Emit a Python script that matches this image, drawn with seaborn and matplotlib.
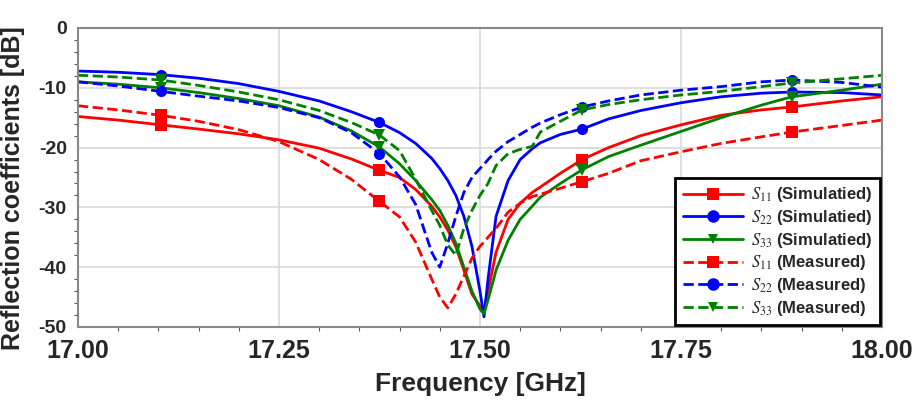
import matplotlib
matplotlib.use("Agg")
import matplotlib.pyplot as plt
from matplotlib.lines import Line2D
from matplotlib.ticker import MultipleLocator
import seaborn as sns

# frequency grid [GHz] shared by all traces
freq = [17.000, 17.050, 17.103, 17.150, 17.200, 17.250, 17.300, 17.340, 17.375,
        17.400, 17.420, 17.440, 17.450, 17.460, 17.470, 17.480, 17.490, 17.500,
        17.505, 17.510, 17.520, 17.535, 17.550, 17.565, 17.575, 17.600, 17.627,
        17.660, 17.700, 17.750, 17.800, 17.850, 17.888, 17.950, 18.000]
marker_freqs = [17.103, 17.375, 17.627, 17.888]

# simulated
s11_sim = [-14.8, -15.4, -16.2, -16.9, -17.7, -18.7, -20.1, -21.9, -23.8,
           -25.0, -27.0, -29.8, -31.6, -33.8, -36.6, -40.5, -44.5, -46.5,
           -47.0, -44.0, -37.5, -32.0, -29.3, -27.5, -26.6, -24.3, -22.0,
           -20.0, -18.0, -16.2, -14.6, -13.7, -13.2, -12.2, -11.5]
s22_sim = [-7.2, -7.4, -7.8, -8.4, -9.3, -10.6, -12.2, -14.0, -15.8,
           -17.5, -19.3, -21.8, -23.5, -25.5, -28.0, -31.5, -36.5, -44.0,
           -48.3, -42.0, -31.5, -25.5, -22.0, -20.2, -19.2, -17.8, -16.9,
           -15.2, -13.8, -12.5, -11.5, -10.9, -10.7, -10.8, -11.2]
s33_sim = [-9.0, -9.4, -10.0, -10.8, -11.8, -13.0, -14.9, -17.2, -19.9,
           -22.7, -25.5, -28.7, -30.5, -33.0, -36.0, -40.0, -44.0, -47.0,
           -47.8, -45.5, -40.5, -35.5, -32.0, -29.8, -28.3, -26.0, -23.7,
           -21.5, -19.6, -17.3, -15.0, -12.9, -11.5, -10.4, -9.4]

# measured
s11_meas = [-13.0, -13.7, -14.6, -15.6, -17.0, -19.0, -22.0, -25.3, -29.0,
            -31.6, -35.8, -42.0, -45.0, -46.8, -44.5, -41.5, -38.5, -36.5,
            -35.8, -35.0, -33.5, -30.8, -29.3, -28.2, -27.8, -26.8, -25.7,
            -24.3, -22.2, -20.7, -19.3, -18.2, -17.4, -16.3, -15.4]
s22_meas = [-9.0, -9.7, -10.6, -11.4, -12.2, -13.3, -15.0, -17.5, -21.0,
            -24.9, -29.5, -37.5, -40.0, -36.0, -31.5, -27.5, -25.0, -23.5,
            -22.8, -22.0, -20.6, -19.0, -17.8, -16.6, -15.9, -14.5, -13.2,
            -12.2, -11.2, -10.4, -9.8, -9.0, -8.7, -9.1, -9.9]
s33_meas = [-7.9, -8.2, -8.7, -9.6, -10.7, -12.0, -13.8, -15.8, -17.9,
            -20.5, -25.3, -30.5, -33.0, -36.3, -38.0, -33.5, -30.5, -28.0,
            -27.0, -26.0, -23.0, -21.0, -20.3, -19.8, -17.4, -15.6, -13.7,
            -12.8, -12.0, -11.2, -10.6, -9.8, -9.2, -8.5, -7.9]

sns.set_style("white")
plt.rcParams["font.family"] = ["Liberation Sans", "DejaVu Sans"]
plt.rcParams["mathtext.fontset"] = "stix"
plt.rcParams["axes.unicode_minus"] = False

fig = plt.figure(figsize=(9.15, 4.04), dpi=100)
ax = fig.add_axes([0.0852, 0.1906, 0.8787, 0.7401])

series = [
    (s11_sim, "red", "-", "s", r"$S_{11}$ (Simulatied)"),
    (s22_sim, "blue", "-", "o", r"$S_{22}$ (Simulatied)"),
    (s33_sim, "green", "-", "v", r"$S_{33}$ (Simulatied)"),
    (s11_meas, "red", "--", "s", r"$S_{11}$ (Measured)"),
    (s22_meas, "blue", "--", "o", r"$S_{22}$ (Measured)"),
    (s33_meas, "green", "--", "v", r"$S_{33}$ (Measured)"),
]
mark_idx = [freq.index(f) for f in marker_freqs]

handles = []
for vals, col, ls, mk, lab in series:
    sns.lineplot(x=freq, y=vals, ax=ax, color=col, linestyle=ls, linewidth=2.0,
                 marker=mk, markersize=8, markevery=mark_idx,
                 markeredgewidth=0, sort=False)
    handles.append(Line2D([], [], color=col, linestyle=ls, linewidth=2.0,
                          marker=mk, markersize=9 if mk != "v" else 7,
                          markeredgewidth=0, label=lab))

ax.set_xlim(17.0, 18.0)
ax.set_ylim(-50, 0)
ax.xaxis.set_minor_locator(MultipleLocator(0.05))
ax.yaxis.set_major_locator(MultipleLocator(10))
ax.yaxis.set_minor_locator(MultipleLocator(2))
ax.set_xticks([17.0, 17.25, 17.5, 17.75, 18.0])
ax.set_xticklabels(["17.00", "17.25", "17.50", "17.75", "18.00"])
ax.grid(True, which="major", color="#dcdcdc", linewidth=1.3)
ax.tick_params(axis="x", which="major", labelsize=18, length=6, width=1,
               direction="out", color="#555555", pad=3)
ax.tick_params(axis="y", which="major", labelsize=14, length=6, width=1,
               direction="out", color="#555555", pad=2)
ax.tick_params(which="minor", length=3, width=0.8, direction="out",
               color="#555555", bottom=True, left=True)
for lbl in ax.get_xticklabels() + ax.get_yticklabels():
    lbl.set_fontweight("bold")
for sp in ax.spines.values():
    sp.set_color("#888888")
    sp.set_linewidth(1.5)

ax.set_xlabel("Frequency [GHz]", fontsize=19, fontweight="bold", labelpad=6)
ax.set_ylabel("Reflection coefficients [dB]", fontsize=18, fontweight="bold")
ax.yaxis.set_label_coords(-0.066, 0.465)

leg = ax.legend(handles=handles, loc="lower right", frameon=True, fancybox=False,
                framealpha=1, edgecolor="black", borderaxespad=0.1,
                handlelength=3.6, handletextpad=0.5, labelspacing=0.22,
                borderpad=0.45, prop={"size": 12, "weight": "bold"})
leg.get_frame().set_linewidth(2.0)

fig.savefig("out.png", dpi=100)
